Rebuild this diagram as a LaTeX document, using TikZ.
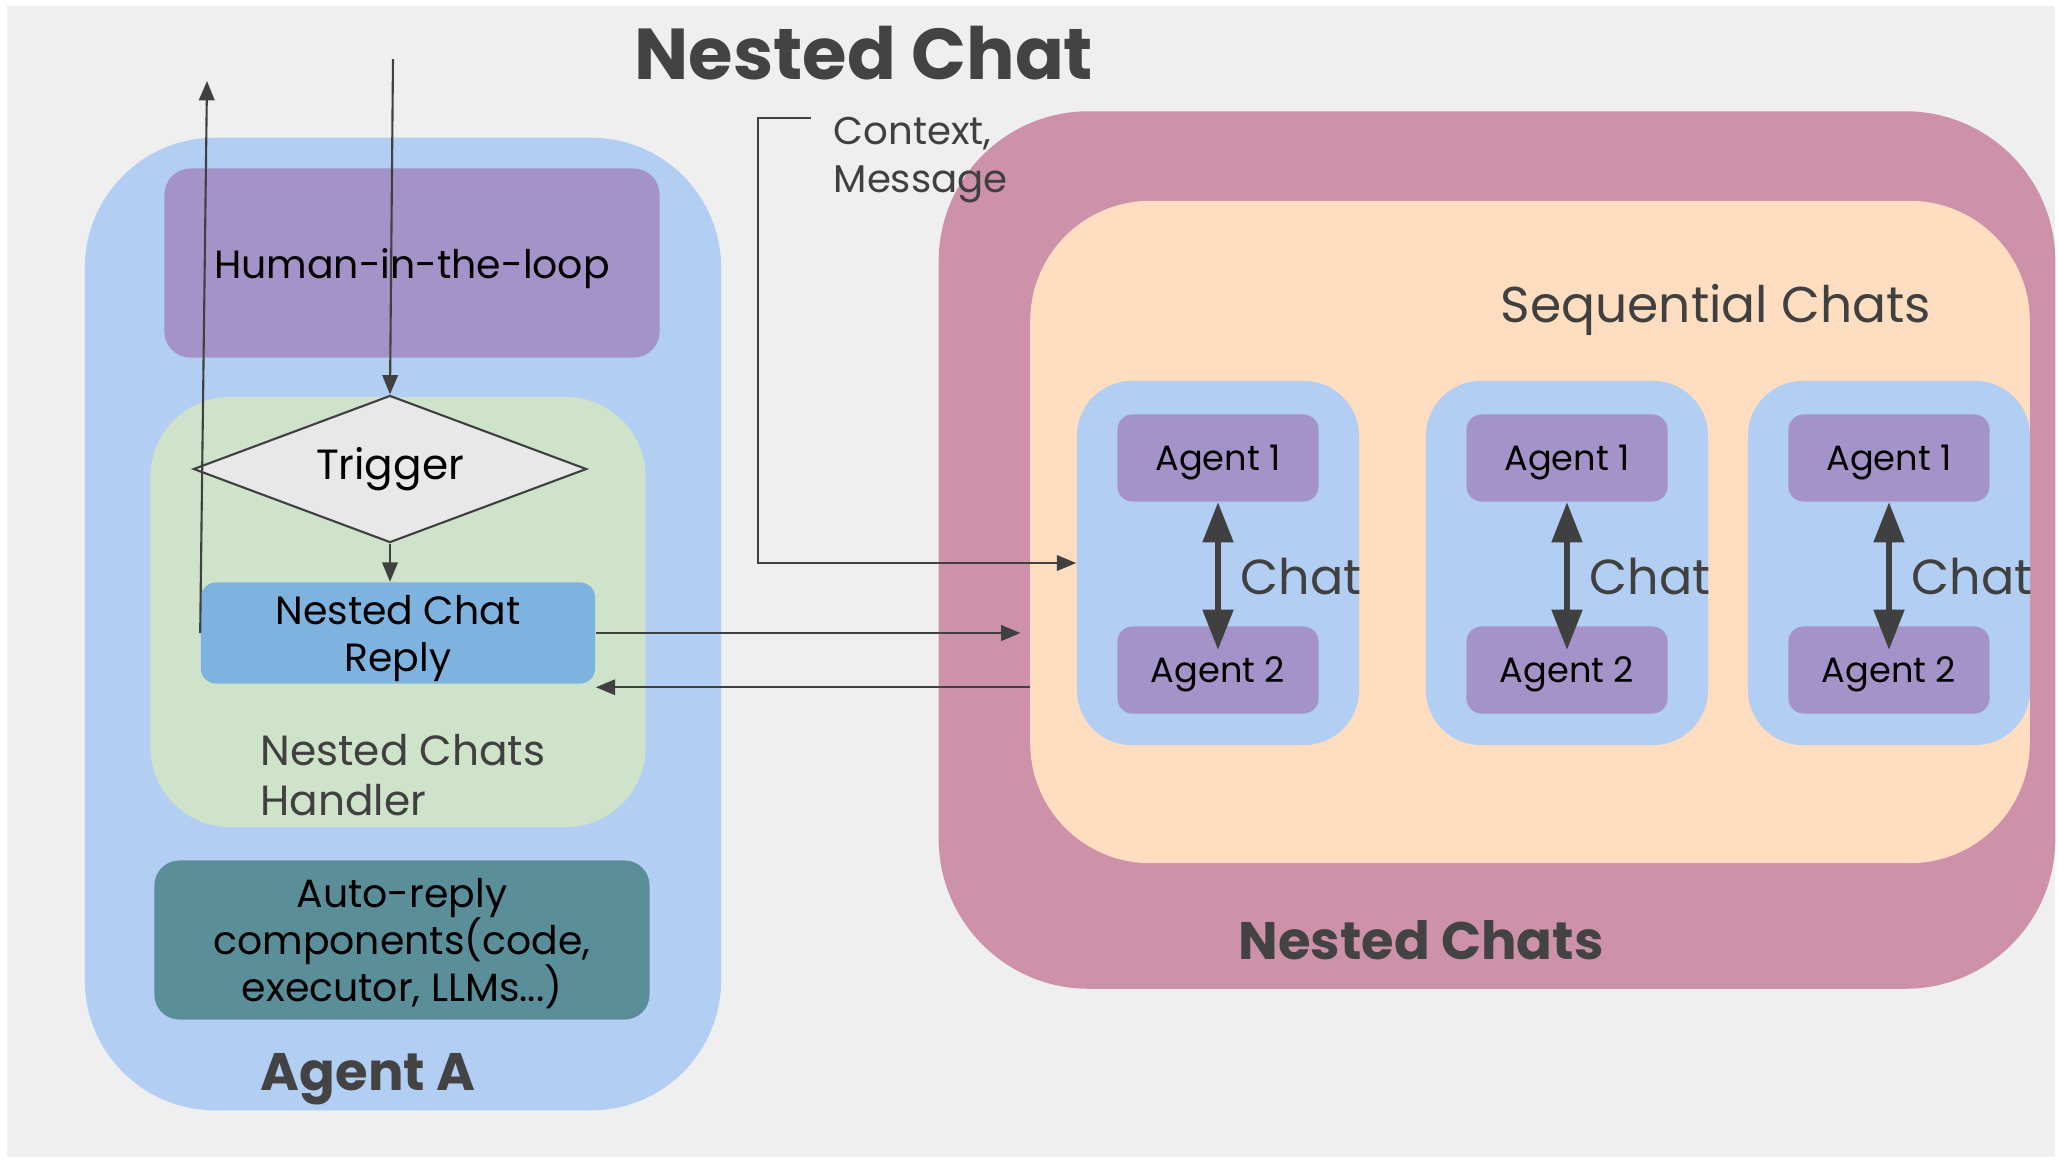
\documentclass[tikz,border=0pt]{standalone}
\usepackage{fontspec}
\setmainfont{Poppins}
\usepackage{xcolor}
\usepackage{tikz}
\usetikzlibrary{arrows.meta,positioning,shapes.geometric}
\definecolor{ncBg}{RGB}{239,239,239}
\definecolor{ncAgent}{RGB}{179,206,243}
\definecolor{ncPurple}{RGB}{163,147,200}
\definecolor{ncGreen}{RGB}{207,226,202}
\definecolor{ncGrey}{RGB}{232,232,232}
\definecolor{ncReply}{RGB}{127,179,223}
\definecolor{ncTeal}{RGB}{90,142,153}
\definecolor{ncPink}{RGB}{206,145,170}
\definecolor{ncPeach}{RGB}{255,221,192}
\definecolor{ncLine}{RGB}{64,64,64}
\definecolor{ncText}{RGB}{67,67,67}

\begin{document}
\begin{tikzpicture}[x=0.01cm, y=-0.01cm,
  plain/.style={rectangle, inner sep=0pt, text=black, align=center, text depth=0pt,
    font={\fontsize{11.2}{13.4}\selectfont\lineskiplimit=-20pt\relax}},
  container/.style={rectangle, inner sep=0pt},
  flow/.style={draw=ncLine, line width=0.6pt, -{Triangle[width=4.4pt,length=5.5pt]}},
  chatarrow/.style={draw=ncLine, line width=1.5pt,
    {Triangle[width=8.5pt,length=11.4pt]}-{Triangle[width=8.5pt,length=11.4pt]}},
  agentbox/.style={plain, fill=ncPurple, rounded corners=0.15cm,
    minimum width=2.01cm, minimum height=0.87cm, font=\fontsize{10}{12}\selectfont},
  heading/.style={text=ncText, font=\fontsize{15}{18}\selectfont\bfseries}]
% page
\useasboundingbox (0,0) rectangle (2059,1162);
\fill[white] (0,0) rectangle (2059,1162);
\fill[ncBg] (7,6) rectangle (2055,1157);

% agent A side
\node[container, fill=ncAgent, rounded corners=1.3cm,
  minimum width=6.36cm, minimum height=9.72cm] (agenta) at (403,624) {};
\node[plain, fill=ncPurple, rounded corners=0.26cm,
  minimum width=4.95cm, minimum height=1.89cm] (human) at (412,263) {Human-in-the-loop};
\node[container, fill=ncGreen, rounded corners=0.8cm,
  minimum width=4.95cm, minimum height=4.30cm] (handler) at (398,612) {};
\node[diamond, aspect=2.67, draw=ncLine, line width=0.6pt, fill=ncGrey, inner sep=0pt,
  minimum width=3.93cm, minimum height=1.47cm,
  font=\fontsize{12}{13.5}\selectfont] (trigger) at (390,469) {Trigger};
\node[plain, fill=ncReply, rounded corners=0.15cm,
  minimum width=3.94cm, minimum height=1.01cm] (reply) at (398,633) {Nested Chat\\Reply};
\node[plain, anchor=west, align=left, text=ncLine, text depth=,
  font=\fontsize{12}{14.2}\selectfont] (handlertext) at (260,775) {Nested Chats\\Handler};
\node[plain, fill=ncTeal, rounded corners=0.25cm,
  minimum width=4.95cm, minimum height=1.59cm] (auto) at (402,940)
  {Auto-reply\\components(code,\\executor, LLMs...)};
\node[heading] (agentalbl) at (368,1079) {Agent A};

% nested chats side
\node[container, fill=ncPink, rounded corners=1.5cm,
  minimum width=11.16cm, minimum height=8.77cm] (nested) at (1497,550) {};
\node[container, fill=ncPeach, rounded corners=1.2cm,
  minimum width=9.99cm, minimum height=6.62cm] (seq) at (1530,532) {};
\node[text=ncLine, font=\fontsize{14.3}{17}\selectfont] (seqlbl) at (1716,310) {Sequential Chats};
\node[heading] (nestedlbl) at (1421,940) {Nested Chats};

% chat groups: index / centre x
\foreach \i/\x in {1/1218, 2/1567, 3/1889}
{
  \node[container, fill=ncAgent, rounded corners=0.55cm,
    minimum width=2.82cm, minimum height=3.64cm] (grp\i) at (\x,563) {};
  \node[agentbox] (first\i) at (\x,458) {Agent 1};
  \node[agentbox] (second\i) at (\x,670) {Agent 2};
  \draw[chatarrow] (first\i.south) -- node[right=0.2cm, inner sep=0pt, text=ncLine,
    font=\fontsize{14}{16}\selectfont] (chat\i) {Chat} ([yshift=-0.24cm]second\i.north);
}

% title and context
\node[text=ncText, font=\fontsize{20.5}{24}\selectfont\bfseries] (title) at (864,53) {Nested Chat};
\node[anchor=west, align=left, inner sep=0pt, text=ncLine,
  font=\fontsize{11}{13.4}\selectfont] (ctxtext) at (833,160) {Context,\\Message};

% connectors
\coordinate (hout) at (207,81);
\coordinate (hin) at (393,59);
\coordinate (ctx) at (811,118);
\draw[flow] (reply.west) -- (hout);
\draw[flow] (hin) -- (trigger.north);
\draw[flow] (trigger.south) -- (trigger.south |- reply.north);
\draw[flow] (ctx) -- ++(-53,0) |- (grp1.west);
\draw[flow] (reply.east) -- ([xshift=-0.09cm]reply.east -| seq.west);
\draw[flow] ([yshift=-0.03cm]reply.south east -| seq.west) -- ([yshift=-0.03cm]reply.south east);
\end{tikzpicture}
\end{document}
